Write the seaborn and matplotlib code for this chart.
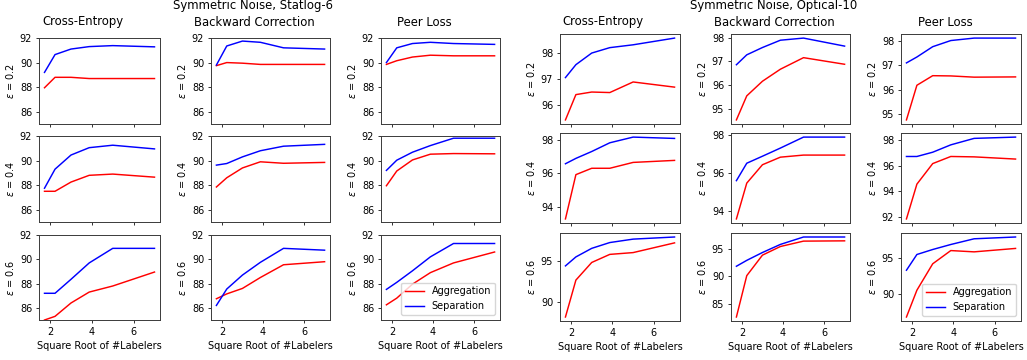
import numpy as np
import pandas as pd
import matplotlib
matplotlib.use("Agg")
import matplotlib.pyplot as plt
import seaborn as sns

# ---------------- data ----------------
labelers = [3, 5, 9, 15, 25, 49]
methods = ["Cross-Entropy", "Backward Correction", "Peer Loss"]
eps_levels = ["0.2", "0.4", "0.6"]
series_names = ["Aggregation", "Separation"]

# Statlog-6 : rows = eps 0.2, 0.4, 0.6
statlog_ce_agg = [[87.95, 88.8, 88.8, 88.7, 88.7, 88.7],
                  [87.5, 87.5, 88.25, 88.8, 88.9, 88.65],
                  [85.0, 85.3, 86.4, 87.3, 87.8, 88.95]]
statlog_ce_sep = [[89.2, 90.65, 91.1, 91.3, 91.38, 91.28],
                  [87.75, 89.3, 90.45, 91.05, 91.25, 90.95],
                  [87.2, 87.2, 88.35, 89.7, 90.9, 90.9]]
statlog_bc_agg = [[89.75, 90.0, 89.95, 89.85, 89.85, 89.85],
                  [87.85, 88.6, 89.4, 89.9, 89.78, 89.85],
                  [86.75, 87.15, 87.6, 88.5, 89.55, 89.8]]
statlog_bc_sep = [[89.8, 91.35, 91.75, 91.65, 91.2, 91.1],
                  [89.63, 89.76, 90.3, 90.8, 91.17, 91.32],
                  [86.2, 87.55, 88.7, 89.75, 90.9, 90.75]]
statlog_pl_agg = [[89.85, 90.15, 90.45, 90.6, 90.55, 90.55],
                  [87.95, 89.15, 90.05, 90.52, 90.57, 90.55],
                  [86.25, 86.8, 87.95, 88.9, 89.7, 90.6]]
statlog_pl_sep = [[90.0, 91.2, 91.55, 91.65, 91.55, 91.48],
                  [89.2, 90.03, 90.68, 91.22, 91.82, 91.82],
                  [87.52, 88.1, 89.05, 90.2, 91.3, 91.3]]

# Optical-10
optical_ce_agg = [[95.42, 96.4, 96.5, 96.48, 96.89, 96.69],
                  [93.28, 95.92, 96.3, 96.3, 96.65, 96.77],
                  [88.2, 92.72, 94.88, 95.87, 96.09, 97.28]]
optical_ce_sep = [[97.06, 97.56, 98.01, 98.22, 98.33, 98.59],
                  [96.57, 96.89, 97.3, 97.82, 98.16, 98.08],
                  [94.46, 95.56, 96.61, 97.32, 97.74, 98.0]]
optical_bc_agg = [[94.52, 95.54, 96.16, 96.67, 97.16, 96.88],
                  [93.56, 95.45, 96.42, 96.82, 96.93, 96.93],
                  [82.6, 90.12, 93.85, 95.42, 96.4, 96.45]]
optical_bc_sep = [[96.86, 97.28, 97.59, 97.9, 97.99, 97.65],
                  [95.58, 96.5, 96.87, 97.3, 97.88, 97.88],
                  [91.83, 92.9, 94.33, 95.8, 97.15, 97.15]]
optical_pl_agg = [[94.77, 96.18, 96.57, 96.56, 96.51, 96.52],
                  [91.87, 94.56, 96.15, 96.7, 96.67, 96.5],
                  [86.75, 90.5, 94.2, 96.05, 95.87, 96.35]]
optical_pl_sep = [[97.09, 97.33, 97.75, 98.0, 98.1, 98.1],
                  [96.7, 96.7, 97.03, 97.6, 98.1, 98.2],
                  [93.3, 95.5, 96.2, 96.9, 97.7, 97.95]]

groups = [
    ("Symmetric Noise, Statlog-6",
     [(statlog_ce_agg, statlog_ce_sep), (statlog_bc_agg, statlog_bc_sep), (statlog_pl_agg, statlog_pl_sep)]),
    ("Symmetric Noise, Optical-10",
     [(optical_ce_agg, optical_ce_sep), (optical_bc_agg, optical_bc_sep), (optical_pl_agg, optical_pl_sep)]),
]

# ---------------- layout (pixels) ----------------
W, H = 1027, 360
col_px = [[(39, 160), (211, 330), (381, 500)],
          [(560, 680), (731, 850), (901, 1021)]]
row_px = [[(38, 124), (136, 222), (235, 320)],
          [(34, 124), (133, 223), (233, 321)]]
suptitle_x = [253, 774]
coltitle_x = [[83, 254, 424], [603, 774, 945]]

plt.rcParams.update({
    "font.family": ["DejaVu Sans"],
    "font.size": 7,
    "xtick.labelsize": 7,
    "ytick.labelsize": 7,
    "axes.labelsize": 7,
    "axes.linewidth": 0.7,
    "axes.edgecolor": "#3a3a3a",
    "xtick.major.width": 0.56,
    "ytick.major.width": 0.56,
    "xtick.major.size": 2.45,
    "ytick.major.size": 2.45,
    "xtick.major.pad": 2.45,
    "ytick.major.pad": 2.45,
    "axes.labelpad": 2.8,
    "legend.fontsize": 7,
})

fig = plt.figure(figsize=(W / 100, H / 100), dpi=100)
x_vals = np.sqrt(labelers)

for g, (gtitle, mdata) in enumerate(groups):
    fig.text(suptitle_x[g] / W, 1 - 5.5 / H, gtitle, ha="center", va="center", fontsize=8.4)
    for c, (agg, sep) in enumerate(mdata):
        fig.text(coltitle_x[g][c] / W, 1 - 22 / H, methods[c], ha="center", va="center", fontsize=8.4)
        for r in range(3):
            x0, x1 = col_px[g][c]
            t0, t1 = row_px[g][r]
            ax = fig.add_axes([x0 / W, 1 - t1 / H, (x1 - x0) / W, (t1 - t0) / H])
            df = pd.DataFrame({
                "x": np.concatenate([x_vals, x_vals]),
                "acc": np.concatenate([agg[r], sep[r]]),
                "series": [series_names[0]] * len(x_vals) + [series_names[1]] * len(x_vals),
            })
            sns.lineplot(data=df, x="x", y="acc", hue="series",
                         palette={"Aggregation": "red", "Separation": "blue"},
                         linewidth=1.05, ax=ax, legend=(r == 2 and c == 2))
            ax.set_xticks([2, 4, 6])
            if g == 0:
                ax.set_ylim(85, 92)
                ax.set_yticks([86, 88, 90, 92])
            ax.set_ylabel(r"$\epsilon$ = " + eps_levels[r])
            if r == 2:
                ax.set_xlabel("Square Root of #Labelers")
            else:
                ax.set_xlabel("")
                ax.set_xticklabels([])
            if r == 2 and c == 2:
                ax.legend(loc="lower right", title=None, fontsize=7)

fig.savefig("out.png", dpi=100)
